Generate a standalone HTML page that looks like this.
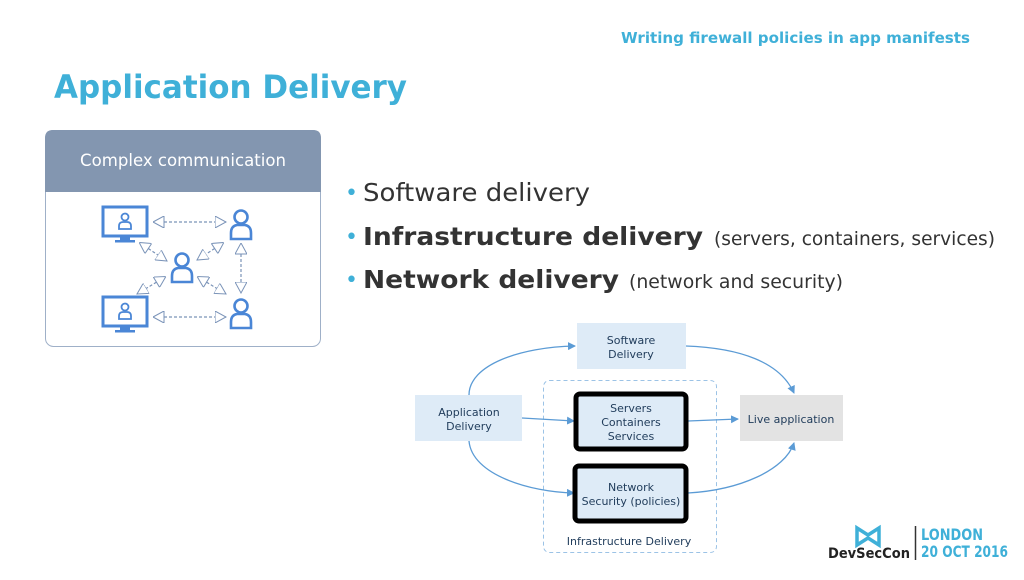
<!DOCTYPE html>
<html><head><meta charset="utf-8"><style>
body{margin:0;width:1024px;height:576px;background:#fff;overflow:hidden;font-family:"DejaVu Sans",sans-serif}
</style></head><body>
<svg width="1024" height="576" viewBox="0 0 1024 576" xmlns="http://www.w3.org/2000/svg" font-family="DejaVu Sans, Liberation Sans, sans-serif">
<defs>
<marker id="a" markerWidth="8" markerHeight="8" refX="7" refY="4" orient="auto" markerUnits="userSpaceOnUse"><path d="M0,0 L8,4 L0,8 z" fill="#5b9bd5"/></marker>
<marker id="h" markerWidth="12" markerHeight="12" refX="11" refY="6" orient="auto" markerUnits="userSpaceOnUse"><path d="M0,0 L11,6 L0,12 z" fill="#fff" stroke="#7a93b8" stroke-width="1"/></marker>
<marker id="t" markerWidth="12" markerHeight="12" refX="1" refY="6" orient="auto" markerUnits="userSpaceOnUse"><path d="M11,0 L0,6 L11,12 z" fill="#fff" stroke="#7a93b8" stroke-width="1"/></marker>
<g id="p"><circle cx="0" cy="-8" r="6.5" fill="none" stroke="#4a86d6" stroke-width="2.6"/><path d="M-10,14 L-10,8 Q-10,1 -4,0 L4,0 Q10,1 10,8 L10,14 Z" fill="none" stroke="#4a86d6" stroke-width="2.6"/></g>
<g id="m"><rect x="-22" y="-15" width="44" height="29" fill="none" stroke="#4a86d6" stroke-width="3"/><rect x="-5" y="14" width="10" height="4" fill="#4a86d6"/><rect x="-10" y="18" width="20" height="2.5" fill="#4a86d6"/><circle cx="0" cy="-5" r="3.5" fill="none" stroke="#4a86d6" stroke-width="1.8"/><path d="M-6,7 L-6,4 Q-6,0 -2,0 L2,0 Q6,0 6,4 L6,7 Z" fill="none" stroke="#4a86d6" stroke-width="1.8"/></g>
</defs>
<text x="621" y="43" textLength="349" lengthAdjust="spacingAndGlyphs" font-size="15" font-weight="bold" fill="#3fb0d8">Writing firewall policies in app manifests</text>
<text x="54" y="98" textLength="353" lengthAdjust="spacingAndGlyphs" font-size="32" font-weight="bold" fill="#3fb0d8">Application Delivery</text>
<rect x="45.5" y="130.5" width="275" height="216" rx="8" fill="#fff" stroke="#9fb0c8"/>
<path d="M45,192 L45,138 Q45,130 53,130 L313,130 Q321,130 321,138 L321,192 Z" fill="#8396b0"/>
<text x="80" y="166" textLength="206" lengthAdjust="spacingAndGlyphs" font-size="17" fill="#fff">Complex communication</text>
<use href="#m" x="125" y="222"/><use href="#m" x="125" y="312"/>
<use href="#p" x="241" y="225"/><use href="#p" x="182" y="268"/><use href="#p" x="241" y="314"/>
<g stroke="#7a93b8" stroke-width="1.2" stroke-dasharray="3,2" fill="none">
<line x1="154" y1="222" x2="226" y2="222" marker-start="url(#t)" marker-end="url(#h)"/>
<line x1="154" y1="317" x2="226" y2="317" marker-start="url(#t)" marker-end="url(#h)"/>
<line x1="140" y1="243" x2="167" y2="261" marker-start="url(#t)" marker-end="url(#h)"/>
<line x1="223" y1="243" x2="197" y2="260" marker-start="url(#t)" marker-end="url(#h)"/>
<line x1="165" y1="277" x2="137" y2="294" marker-start="url(#t)" marker-end="url(#h)"/>
<line x1="198" y1="277" x2="226" y2="294" marker-start="url(#t)" marker-end="url(#h)"/>
<line x1="241" y1="244" x2="241" y2="293" marker-start="url(#t)" marker-end="url(#h)"/>
</g>
<g fill="#333">
<text x="345" y="200" font-size="22" fill="#3fb0d8">•</text>
<text x="345" y="244" font-size="22" fill="#3fb0d8">•</text>
<text x="345" y="287" font-size="22" fill="#3fb0d8">•</text>
<text x="363" y="201" textLength="227" lengthAdjust="spacingAndGlyphs" font-size="25">Software delivery</text>
<text x="363" y="245" textLength="340" lengthAdjust="spacingAndGlyphs" font-size="25" font-weight="bold">Infrastructure delivery</text>
<text x="714" y="245" textLength="281" lengthAdjust="spacingAndGlyphs" font-size="19">(servers, containers, services)</text>
<text x="363" y="288" textLength="256" lengthAdjust="spacingAndGlyphs" font-size="25" font-weight="bold">Network delivery</text>
<text x="629" y="288" textLength="214" lengthAdjust="spacingAndGlyphs" font-size="19">(network and security)</text>
</g>
<rect x="543.5" y="380.5" width="173" height="172" rx="6" fill="none" stroke="#9cc3e6" stroke-dasharray="4,3"/>
<text x="629" y="545" text-anchor="middle" font-size="11" fill="#1f3b5a">Infrastructure Delivery</text>
<g stroke="#5b9bd5" stroke-width="1.3" fill="none">
<path d="M469,395 C469,365 520,347 575,346" marker-end="url(#a)"/>
<path d="M686,346 C740,348 780,362 794,393" marker-end="url(#a)"/>
<line x1="522" y1="418" x2="574" y2="421" marker-end="url(#a)"/>
<line x1="688" y1="421" x2="738" y2="419" marker-end="url(#a)"/>
<path d="M469,441 C472,475 530,492 574,493" marker-end="url(#a)"/>
<path d="M688,493 C740,490 785,470 794,443" marker-end="url(#a)"/>
</g>
<g font-size="11" fill="#1f3b5a" text-anchor="middle">
<rect x="577" y="323" width="109" height="46" fill="#deebf7"/>
<text x="631" y="344">Software</text>
<text x="631" y="358">Delivery</text>
<rect x="415" y="395" width="107" height="46" fill="#deebf7"/>
<text x="469" y="416">Application</text>
<text x="469" y="430">Delivery</text>
<rect x="576" y="394" width="110" height="55" rx="4" fill="#deebf7" stroke="#000" stroke-width="5"/>
<text x="631" y="412">Servers</text>
<text x="631" y="426">Containers</text>
<text x="631" y="440">Services</text>
<rect x="575" y="466" width="111" height="55" rx="4" fill="#deebf7" stroke="#000" stroke-width="5"/>
<text x="631" y="491">Network</text>
<text x="631" y="505">Security (policies)</text>
<rect x="740" y="395" width="103" height="46" fill="#e3e3e3"/>
<text x="791" y="423">Live application</text>
</g>
<path d="M857,528 L868,535 L879,528 L879,545 L868,538 L857,545 Z" fill="none" stroke="#3fb0d8" stroke-width="3.5"/>
<text x="828" y="558" textLength="82" lengthAdjust="spacingAndGlyphs" font-size="14" font-weight="bold" fill="#222">DevSecCon</text>
<line x1="915.5" y1="526" x2="915.5" y2="560" stroke="#333" stroke-width="1.5"/>
<text x="921" y="540" textLength="62" lengthAdjust="spacingAndGlyphs" font-size="16" font-weight="bold" fill="#3fb0d8">LONDON</text>
<text x="921" y="557" textLength="87" lengthAdjust="spacingAndGlyphs" font-size="16" font-weight="bold" fill="#3fb0d8">20 OCT 2016</text>
</svg>
</body></html>
